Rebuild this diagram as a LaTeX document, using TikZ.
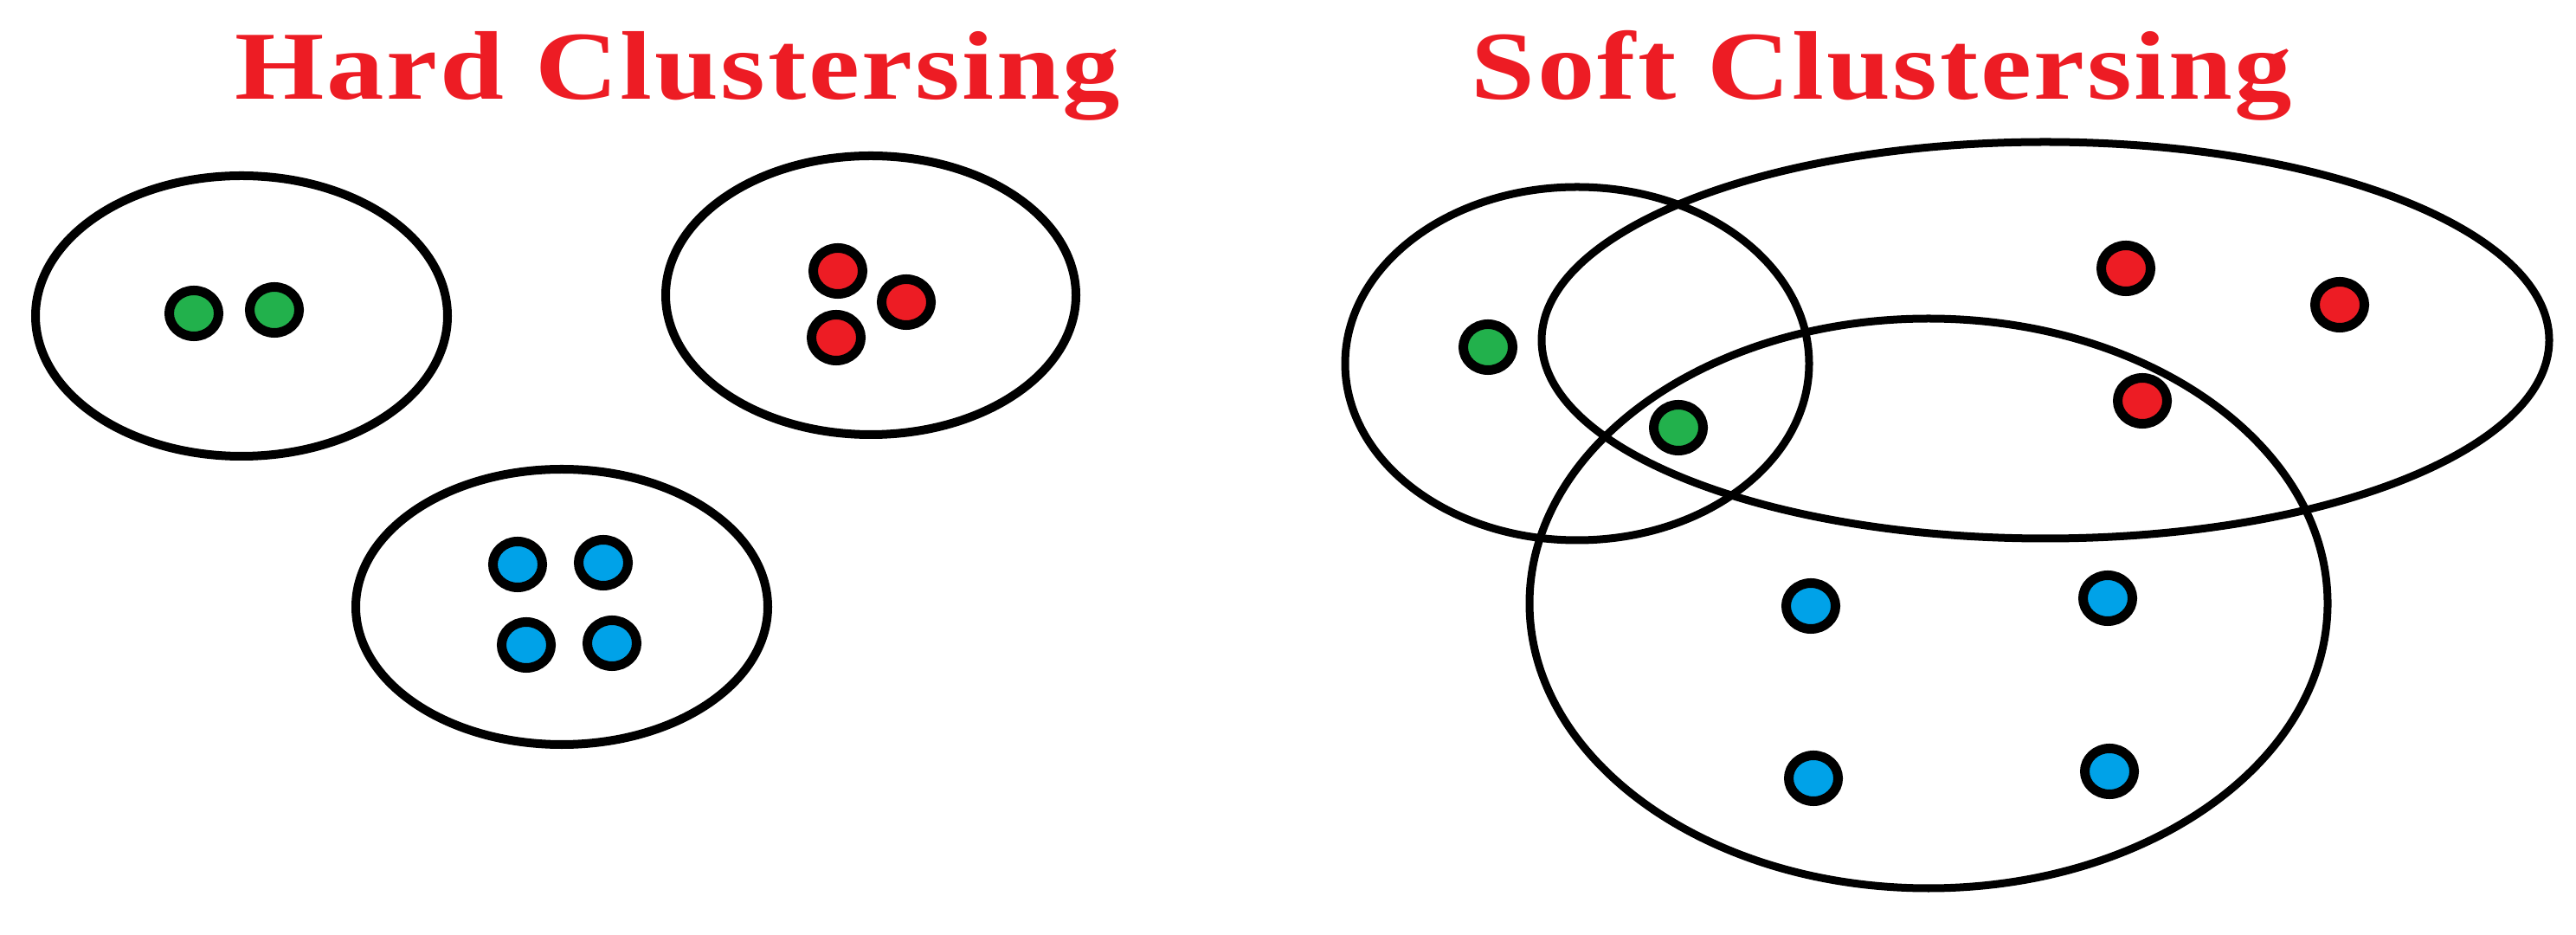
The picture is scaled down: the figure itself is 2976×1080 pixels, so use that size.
\documentclass[tikz,border=0pt]{standalone}
\usepackage{fontspec}
\setmainfont{Liberation Serif}
\newfontfamily\titlefont{Liberation Serif}[LetterSpace=2]
\usetikzlibrary{positioning,shapes.geometric}
\usepackage{xcolor}

\definecolor{ptred}{RGB}{237,28,36}
\definecolor{ptgreen}{RGB}{34,177,76}
\definecolor{ptblue}{RGB}{0,162,232}

\tikzset{
  cluster/.style={line width=0.10cm},
  softcluster/.style={line width=0.09cm},
  pt/.style={ellipse, draw=black, line width=0.11cm, minimum width=0.57cm, minimum height=0.53cm, inner sep=0pt},
  gpt/.style={pt, fill=ptgreen},
  rpt/.style={pt, fill=ptred},
  bpt/.style={pt, fill=ptblue},
  heading/.style={anchor=base, xscale=1.18, text=ptred, font=\titlefont\bfseries\fontsize{32}{38}\selectfont}
}

\begin{document}
\begin{tikzpicture}[x=0.01cm, y=-0.01cm]
  \useasboundingbox (0,0) rectangle (2976,1080);

  %% Titles
  \node[heading] (hardtitle) at (783,115) {Hard Clustersing};
  \node[heading] (softtitle) at (2174,115) {Soft Clustersing};

  %% Hard clustering: three separate groups
  \draw[cluster] (279,365) ellipse [x radius=238, y radius=162];
  \draw[cluster] (1006,341) ellipse [x radius=237, y radius=161];
  \draw[cluster] (649,701) ellipse [x radius=238, y radius=159];

  \foreach \i/\x/\y in {1/224/362, 2/317/358}
    \node[gpt] (hg\i) at (\x,\y) {};
  \foreach \i/\x/\y in {1/968/313, 2/1047/349, 3/966/390}
    \node[rpt] (hr\i) at (\x,\y) {};
  \foreach \i/\x/\y in {1/598/652, 2/697/650, 3/608/745, 4/707/743}
    \node[bpt] (hb\i) at (\x,\y) {};

  %% Soft clustering: overlapping groups
  \draw[softcluster] (1822,420) ellipse [x radius=268, y radius=204];
  \draw[softcluster] (2363,393) ellipse [x radius=582, y radius=229];
  \draw[softcluster] (2228,697) ellipse [x radius=461, y radius=329];

  \foreach \i/\x/\y in {1/1719/401, 2/1939/494}
    \node[gpt] (sg\i) at (\x,\y) {};
  \foreach \i/\x/\y in {1/2456/310, 2/2703/352, 3/2475/463}
    \node[rpt] (sr\i) at (\x,\y) {};
  \foreach \i/\x/\y in {1/2092/700, 2/2435/691, 3/2095/899, 4/2437/891}
    \node[bpt] (sb\i) at (\x,\y) {};
\end{tikzpicture}
\end{document}
